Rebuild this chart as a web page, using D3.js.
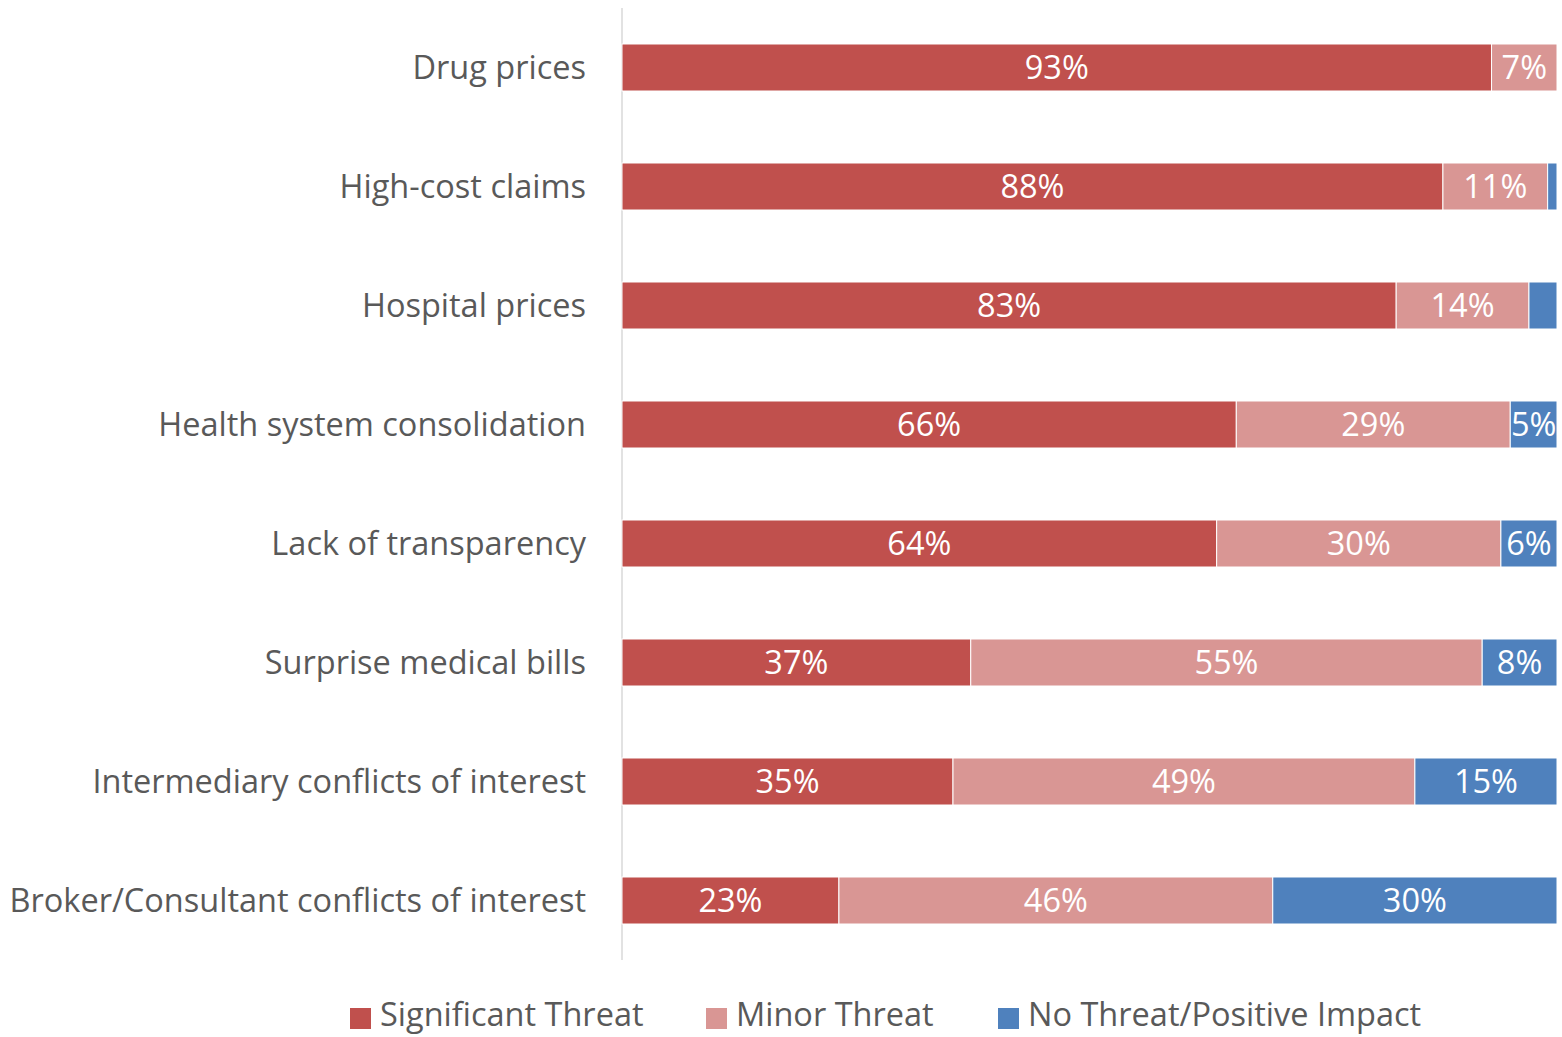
<!DOCTYPE html>
<html><head><meta charset="utf-8">
<script src="https://cdn.jsdelivr.net/npm/d3@7"></script>
<style>body{margin:0;background:#fff;} text{font-family:"Open Sans",Lato,sans-serif;}</style>
</head><body>
<svg id="c" width="1562" height="1037"></svg>
<script>
const categories = ["Drug prices","High-cost claims","Hospital prices","Health system consolidation","Lack of transparency","Surprise medical bills","Intermediary conflicts of interest","Broker/Consultant conflicts of interest"];
const seriesNames = ["Significant Threat","Minor Threat","No Threat/Positive Impact"];
const significant = [93.0, 87.8, 82.8, 65.7, 63.6, 37.3, 35.4, 23.2];
const minor = [7.0, 11.2, 14.2, 29.3, 30.4, 54.7, 49.4, 46.4];
const noThreat = [0.0, 1.0, 3.0, 5.0, 6.0, 8.0, 15.2, 30.4];
const colors = ["#C0504D","#D99694","#4F81BD"];

const svg = d3.select("#c");
const x = d3.scaleLinear().domain([0,100]).range([622,1557]);
const y = d3.scaleBand().domain(categories).range([8,960]).paddingInner(0.605).paddingOuter(0.3025);
const fs = 32.5;

const rows = categories.map((c,i)=>({cat:c, vals:[significant[i],minor[i],noThreat[i]]}));

svg.append("line").attr("x1",622).attr("x2",622).attr("y1",8).attr("y2",960).attr("stroke","#d9d9d9").attr("stroke-width",1.5);

rows.forEach(r=>{
  let acc=0;
  r.vals.forEach((v,k)=>{
    if(v<=0){return;}
    const x0=x(acc), x1=x(acc+v);
    svg.append("rect").attr("x",x0).attr("y",y(r.cat)).attr("width",x1-x0).attr("height",y.bandwidth())
      .attr("fill",colors[k]).attr("stroke","#fff").attr("stroke-width",1);
    if(v>=4.5){
      svg.append("text").attr("x",(x0+x1)/2).attr("y",y(r.cat)+y.bandwidth()/2).attr("dy","0.36em")
        .attr("text-anchor","middle").attr("fill","#fff").attr("font-size",fs).text(Math.round(v)+"%");
    }
    acc+=v;
  });
  svg.append("text").attr("x",586).attr("y",y(r.cat)+y.bandwidth()/2).attr("dy","0.36em")
    .attr("text-anchor","end").attr("fill","#595959").attr("font-size",fs).text(r.cat);
});

const legX=[350,706,998];
seriesNames.forEach((s,k)=>{
  svg.append("rect").attr("x",legX[k]).attr("y",1008).attr("width",21).attr("height",21).attr("fill",colors[k]);
  svg.append("text").attr("x",legX[k]+30).attr("y",1014.5).attr("dy","0.36em").attr("fill","#595959").attr("font-size",fs).text(s);
});
</script>
</body></html>
